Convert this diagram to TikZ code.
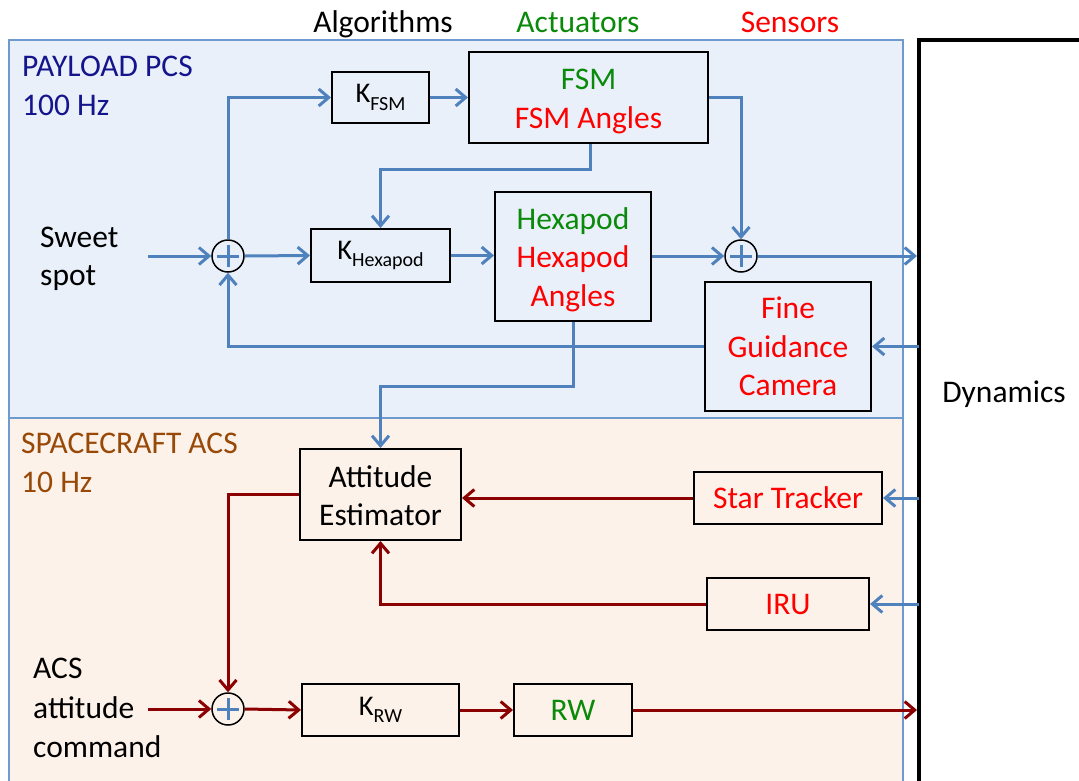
\documentclass[tikz,border=0pt]{standalone}
\usepackage{fontspec}
\setmainfont{Carlito}
\usetikzlibrary{arrows.meta}
\definecolor{lnblue}{HTML}{4F81BD}
\definecolor{lnred}{HTML}{8B0000}
\definecolor{txgreen}{HTML}{0A8A0A}
\definecolor{txred}{HTML}{FF0000}
\definecolor{txnavy}{HTML}{14148C}
\definecolor{txbrown}{HTML}{984807}
\definecolor{bgblue}{HTML}{E9F0FA}
\definecolor{bgpeach}{HTML}{FDF2EA}
\definecolor{rgnline}{HTML}{6F9AD0}
\newcommand{\lowr}[2]{\raisebox{-#1pt}[\height][\depth]{#2}}
\begin{document}
\begin{tikzpicture}[x=1pt,y=-1pt,
  txt/.style={font=\fontsize{31.5}{38.5}\selectfont, inner sep=0pt, align=center},
  blk/.style={draw=black, line width=2pt, inner sep=0pt, align=center, font=\fontsize{31.5}{38.5}\selectfont},
  kblk/.style={blk, font=\fontsize{28.5}{30}\selectfont},
  sumnode/.style={circle, draw=black, line width=1.5pt, minimum size=32pt, inner sep=0pt},
  plus/.style={draw=lnblue, line width=3pt},
  bl/.style={draw=lnblue, line width=3pt, -{Straight Barb[length=10pt,width=17pt]}},
  rd/.style={draw=lnred, line width=3pt, -{Straight Barb[length=10pt,width=17pt]}},
]
\useasboundingbox (0,0) rectangle (1079,780);
% regions
\fill[bgblue] (9,40) rectangle (903,418);
\fill[bgpeach] (9,418) rectangle (903,790);
\draw[rgnline, line width=1.2pt] (9,790) -- (9,40) -- (903,40) -- (903,790);
\draw[rgnline, line width=1.2pt] (9,418) -- (903,418);
% dynamics
\draw[black, line width=3.5pt] (919,790) -- (919,40) -- (1090,40);
\node[txt, anchor=base] (dyn) at (1004,402) {Dynamics};
% headers
\node[txt, anchor=base] (halg) at (383,32) {Algorithms};
\node[txt, anchor=base, text=txgreen] (hact) at (578,32) {Actuators};
\node[txt, anchor=base, text=txred] (hsen) at (790,32) {Sensors};
% region labels
\node[txt, anchor=base west, text=txnavy] (pl1) at (22,76) {PAYLOAD PCS};
\node[txt, anchor=base west, text=txnavy] (pl2) at (22,115) {100 Hz};
\node[txt, anchor=base west, text=txbrown] (sc1) at (21,453) {SPACECRAFT ACS};
\node[txt, anchor=base west, text=txbrown] (sc2) at (21,492) {10 Hz};
\node[txt, anchor=base west] (ss1) at (40,247) {Sweet};
\node[txt, anchor=base west] (ss2) at (40,285) {spot};
\node[txt, anchor=base west] (ac1) at (33,678) {ACS};
\node[txt, anchor=base west] (ac2) at (33,718) {attitude};
\node[txt, anchor=base west] (ac3) at (33,757) {command};
% blocks
\node[kblk, minimum width=97pt, minimum height=51pt] (kfsm) at (380.5,97.5) {K\raisebox{-8pt}{\fontsize{20}{20}\selectfont FSM}};
\node[blk, minimum width=239pt, minimum height=91pt] (fsm) at (588.5,97.5) {\lowr{4}{\textcolor{txgreen}{FSM}}\\\lowr{4}{\textcolor{txred}{FSM Angles}}};
\node[kblk, minimum width=139pt, minimum height=53pt] (khex) at (380.5,255.5) {K\raisebox{-7pt}{\fontsize{20}{20}\selectfont Hexapod}};
\node[blk, minimum width=156pt, minimum height=129pt] (hex) at (573,256.5) {\lowr{3}{\textcolor{txgreen}{Hexapod}}\\\lowr{3}{\textcolor{txred}{Hexapod}}\\\lowr{3}{\textcolor{txred}{Angles}}};
\node[blk, minimum width=166pt, minimum height=129pt, text=txred] (fgc) at (788,346.5) {Fine\\Guidance\\Camera};
\node[blk, minimum width=161pt, minimum height=91pt] (ae) at (380.5,494.5) {\lowr{1}{Attitude}\\\lowr{1}{Estimator}};
\node[blk, minimum width=188pt, minimum height=52pt, text=txred] (st) at (788,498) {Star Tracker};
\node[blk, minimum width=162pt, minimum height=52pt, text=txred] (iru) at (788,604) {IRU};
\node[kblk, minimum width=157pt, minimum height=52pt] (krw) at (380.5,710) {K\raisebox{-7pt}{\fontsize{20}{20}\selectfont RW}};
\node[blk, minimum width=118pt, minimum height=52pt, text=txgreen] (rw) at (573,710) {RW};
% sums
\node[sumnode] (s1) at (228,256) {};
\node[sumnode] (s2) at (741,256) {};
\node[sumnode] (s3) at (228,709) {};
\foreach \s in {s1,s2,s3}{
  \draw[plus] (\s.center) ++(-11,0) -- ++(22,0);
  \draw[plus] (\s.center) ++(0,-11) -- ++(0,22);
}
% free ends
\coordinate (sweet) at (148,256);
\coordinate (acs) at (148,709);
\coordinate (dout1) at (917,256);
\coordinate (dout2) at (917,710);
\coordinate (dfgc) at (919,346.5);
\coordinate (dst) at (919,498);
\coordinate (diru) at (919,604);
% blue connectors
\draw[bl] (sweet) -- (s1.west);
\draw[bl] (s1.north) |- (kfsm.west);
\draw[bl] (kfsm.east) -- (fsm.west);
\draw[bl] (fsm.east) -| (s2.north);
\draw[bl] ([xshift=1.5pt]fsm.south) -- ++(0,25) -| (khex.north);
\draw[bl] (s1.east) -- (khex.west);
\draw[bl] (khex.east) -- (khex.east -| hex.west);
\draw[bl] (hex.east |- s2.west) -- (s2.west);
\draw[bl] (s2.east) -- (dout1);
\draw[bl] (fgc.west) -| (s1.south);
\draw[bl] (hex.south) -- ++(0,64) -| (ae.north);
\draw[bl] (dfgc) -- (fgc.east);
\draw[bl] (dst) -- (st.east);
\draw[bl] (diru) -- (iru.east);
% red connectors
\draw[rd] (st.west) -- (st.west -| ae.east);
\draw[rd] (iru.west) -| (ae.south);
\draw[rd] (ae.west) -| (s3.north);
\draw[rd] (acs) -- (s3.west);
\draw[rd] (s3.east) -- (krw.west);
\draw[rd] (krw.east) -- (rw.west);
\draw[rd] (rw.east) -- (dout2);
\end{tikzpicture}
\end{document}
